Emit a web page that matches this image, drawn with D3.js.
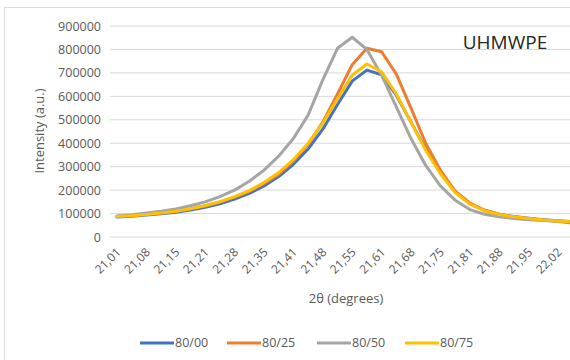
<!DOCTYPE html>
<html><head><meta charset="utf-8">
<script src="https://cdn.jsdelivr.net/npm/d3@7"></script>
<style>
html,body{margin:0;padding:0;background:#fff;}
svg{display:block;font-family:"Open Sans",sans-serif;}
</style></head>
<body><svg id="c" width="570" height="360"></svg>
<script>
const categories = ["21,01","21,05","21,08","21,11","21,15","21,18","21,21","21,25","21,28","21,31","21,35","21,38","21,41","21,45","21,48","21,51","21,55","21,58","21,61","21,65","21,68","21,71","21,75","21,78","21,81","21,85","21,88","21,91","21,95","21,98","22,02","22,05"];
const yTicks = [0,100000,200000,300000,400000,500000,600000,700000,800000,900000];
const seriesNames = ["80/00","80/25","80/50","80/75"];
const seriesColors = ["#4472C4","#ED7D31","#A5A5A5","#FFC000"];
const s8000 = [85000,89000,94000,99000,106000,115000,127000,142000,162000,186000,218000,258000,310000,375000,460000,565000,665000,712000,692000,605000,490000,375000,275000,195000,142000,113000,97000,87000,80000,74000,69000,65000];
const s8025 = [88000,92000,97000,103000,110000,120000,133000,150000,170000,195000,228000,268000,325000,395000,490000,610000,735000,805000,790000,695000,550000,400000,285000,195000,145000,115000,97000,86000,78000,72000,66000,60000];
const s8050 = [90000,95000,102000,110000,120000,133000,150000,172000,200000,238000,285000,345000,420000,520000,670000,805000,852000,800000,690000,555000,420000,305000,218000,157000,117000,97000,86000,79000,74000,70000,67000,64000];
const s8075 = [87000,91000,96000,102000,110000,120000,133000,150000,172000,198000,232000,275000,330000,400000,485000,590000,690000,738000,705000,610000,490000,370000,270000,190000,140000,112000,96000,86000,79000,73000,68000,64000];
const seriesValues = [s8000,s8025,s8050,s8075];

const svg = d3.select("#c");
// chart border
svg.append("rect").attr("x",4.5).attr("y",7.5).attr("width",700).attr("height",500)
  .attr("fill","none").attr("stroke","#d9d9d9");

const step = 14.7;
const x = d3.scalePoint().domain(categories).range([117, 117 + step*(categories.length-1)]);
const y = d3.scaleLinear().domain([0,900000]).range([237,26]);

// gridlines
svg.append("g").selectAll("line").data(yTicks).join("line")
  .attr("x1",110).attr("x2",570).attr("y1",d=>y(d)).attr("y2",d=>y(d))
  .attr("stroke","#d9d9d9").attr("stroke-width",1);

// y axis labels
const yAxis = d3.axisLeft(y).tickValues(yTicks).tickSize(0).tickPadding(0).tickFormat(d3.format("d"));
const gy = svg.append("g").attr("transform","translate(101,0)").call(yAxis);
gy.select(".domain").remove();
gy.selectAll("text").attr("fill","#595959").style("font-size","12.5px").style("font-family","'Open Sans',sans-serif");

// x axis labels
const xAxis = d3.axisBottom(x).tickValues(categories.filter((d,i)=>i%2===0)).tickSize(0).tickPadding(0);
const gx = svg.append("g").attr("transform","translate(0,237)").call(xAxis);
gx.select(".domain").remove();
gx.selectAll("text")
  .attr("y",0).attr("dy",0)
  .attr("text-anchor","end")
  .attr("transform",d=>"translate(4,16) rotate(-45)")
  .attr("fill","#595959").style("font-size","12px").style("font-family","'Open Sans',sans-serif");

// lines
const line = d3.line().x((d,i)=>x(categories[i])).y(d=>y(d));
svg.append("clipPath").attr("id","pc").append("rect").attr("x",0).attr("y",0).attr("width",570).attr("height",360);
svg.append("g").attr("clip-path","url(#pc)").selectAll("path").data(seriesValues).join("path")
  .attr("d",d=>line(d)).attr("fill","none")
  .attr("stroke",(d,i)=>seriesColors[i]).attr("stroke-width",3)
  .attr("stroke-linejoin","round").attr("stroke-linecap","round");

// axis titles
svg.append("text").attr("transform","translate(44,131) rotate(-90)").attr("text-anchor","middle")
  .attr("fill","#595959").style("font-size","13px").text("Intensity (a.u.)");
svg.append("text").attr("x",346).attr("y",303).attr("text-anchor","middle")
  .attr("fill","#595959").style("font-size","13px").text("2θ (degrees)");

// chart label
svg.append("text").attr("x",505).attr("y",49).attr("text-anchor","middle")
  .attr("fill","#262626").style("font-size","19px").text("UHMWPE");

// legend
const legendX = [140,227,317,405];
const lg = svg.append("g").selectAll("g").data(seriesNames).join("g")
  .attr("transform",(d,i)=>`translate(${legendX[i]},343)`);
lg.append("line").attr("x1",0).attr("x2",34).attr("y1",0).attr("y2",0)
  .attr("stroke",(d,i)=>seriesColors[i]).attr("stroke-width",3);
lg.append("text").attr("x",35).attr("y",0).attr("dy","0.35em")
  .attr("fill","#595959").style("font-size","12.5px").text(d=>d);
</script></body></html>
